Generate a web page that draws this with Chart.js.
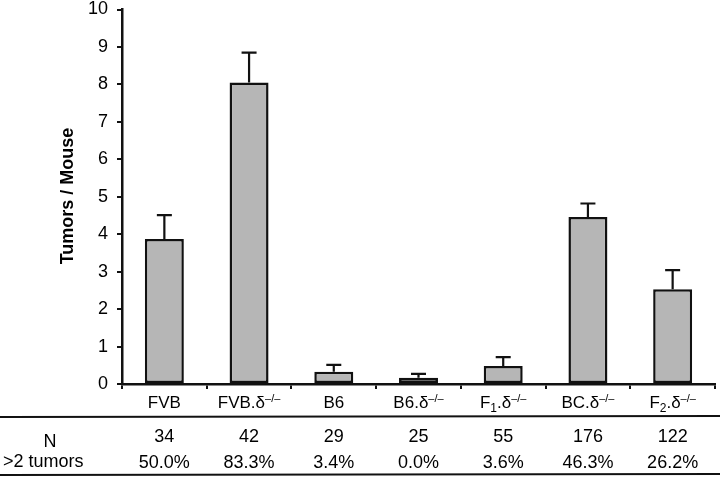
<!DOCTYPE html>
<html>
<head>
<meta charset="utf-8">
<script src="https://cdn.jsdelivr.net/npm/chart.js@4.4.1/dist/chart.umd.min.js"></script>
<style>
  html, body { margin: 0; padding: 0; background: #fff; }
  #wrap { width: 720px; height: 479px; position: relative; }
</style>
</head>
<body>
<div id="wrap"><canvas id="c" width="720" height="479"></canvas></div>
<script>
// ---- data ----
// "_x" = subscript character, "^..." = superscript remainder
const categories = ['FVB', 'FVB.δ^–/–', 'B6', 'B6.δ^–/–', 'F_1.δ^–/–', 'BC.δ^–/–', 'F_2.δ^–/–'];
const tumorsPerMouse = [3.87, 8.05, 0.33, 0.17, 0.48, 4.46, 2.53];
const errorSEM = [0.64, 0.80, 0.18, 0.10, 0.24, 0.36, 0.51];
const nMice = ['34', '42', '29', '25', '55', '176', '122'];
const over2Tumors = ['50.0%', '83.3%', '3.4%', '0.0%', '3.6%', '46.3%', '26.2%'];
const rowLabels = ['N', '>2 tumors'];
const yAxisTitle = 'Tumors / Mouse';
const yMin = 0, yMax = 10, yStep = 1;

const FONT = '"Liberation Sans", Arial, Helvetica, sans-serif';

function parseLabel(s) {
  const segs = [];
  let i = 0, buf = '';
  while (i < s.length) {
    const ch = s[i];
    if (ch === '_') {
      if (buf) { segs.push({ t: buf, k: 'n' }); buf = ''; }
      segs.push({ t: s[i + 1], k: 'sub' });
      i += 2; continue;
    }
    if (ch === '^') {
      if (buf) { segs.push({ t: buf, k: 'n' }); buf = ''; }
      segs.push({ t: s.slice(i + 1), k: 'sup' });
      break;
    }
    buf += ch; i++;
  }
  if (buf) segs.push({ t: buf, k: 'n' });
  return segs;
}

function drawRich(ctx, label, cx, baseline) {
  const segs = parseLabel(label);
  const fonts = { n: '17px ' + FONT, sub: '12px ' + FONT, sup: '11px ' + FONT };
  const dy = { n: 0, sub: 4, sup: -6 };
  let total = 0;
  segs.forEach(s => { ctx.font = fonts[s.k]; s.w = ctx.measureText(s.t).width; total += s.w; });
  let x = cx - total / 2;
  ctx.textAlign = 'left';
  ctx.textBaseline = 'alphabetic';
  segs.forEach(s => {
    ctx.font = fonts[s.k];
    ctx.fillText(s.t, x, baseline + dy[s.k]);
    x += s.w;
  });
}

const errorBars = {
  id: 'errorBars',
  afterDatasetsDraw(chart) {
    const ctx = chart.ctx;
    const meta = chart.getDatasetMeta(0);
    const y = chart.scales.y;
    ctx.save();
    ctx.strokeStyle = '#111';
    ctx.lineWidth = 2.2;
    meta.data.forEach((bar, i) => {
      const top = y.getPixelForValue(tumorsPerMouse[i] + errorSEM[i]);
      const base = y.getPixelForValue(tumorsPerMouse[i]);
      ctx.beginPath();
      ctx.moveTo(bar.x, base);
      ctx.lineTo(bar.x, top);
      ctx.moveTo(bar.x - 7.5, top);
      ctx.lineTo(bar.x + 7.5, top);
      ctx.stroke();
    });
    ctx.restore();
  }
};

const tablePlugin = {
  id: 'tablePlugin',
  afterDraw(chart) {
    const ctx = chart.ctx;
    const meta = chart.getDatasetMeta(0);
    const W = chart.width;
    ctx.save();
    ctx.fillStyle = '#000';
    // category labels
    meta.data.forEach((bar, i) => drawRich(ctx, categories[i], bar.x, 408));
    // table lines
    ctx.strokeStyle = '#111';
    ctx.lineWidth = 2;
    ctx.beginPath();
    ctx.moveTo(0, 417); ctx.lineTo(W, 416);
    ctx.moveTo(0, 475); ctx.lineTo(W, 474);
    ctx.stroke();
    // rows
    ctx.font = '18px ' + FONT;
    ctx.textBaseline = 'alphabetic';
    ctx.textAlign = 'center';
    meta.data.forEach((bar, i) => {
      ctx.fillText(nMice[i], bar.x, 442);
      ctx.fillText(over2Tumors[i], bar.x, 468);
    });
    ctx.fillText(rowLabels[0], 50, 447);
    ctx.textAlign = 'left';
    ctx.fillText(rowLabels[1], 3, 467);
    // y-axis title
    ctx.save();
    ctx.translate(68, 196);
    ctx.rotate(-Math.PI / 2);
    ctx.textAlign = 'center';
    ctx.textBaseline = 'middle';
    ctx.font = 'bold 18px ' + FONT;
    ctx.fillText(yAxisTitle, 0, 0);
    ctx.restore();
    ctx.restore();
  }
};

new Chart(document.getElementById('c'), {
  type: 'bar',
  data: {
    labels: categories,
    datasets: [{
      data: tumorsPerMouse,
      backgroundColor: '#b6b6b6',
      borderColor: '#111',
      borderWidth: 2.5,
      borderSkipped: false,
      barPercentage: 0.46,
      categoryPercentage: 1.0
    }]
  },
  options: {
    responsive: false,
    animation: false,
    devicePixelRatio: 1,
    layout: { padding: { top: 0, right: 5, bottom: 0, left: 0 } },
    plugins: { legend: { display: false }, tooltip: { enabled: false }, title: { display: false } },
    scales: {
      x: {
        offset: true,
        grid: { offset: true, drawOnChartArea: false, drawTicks: true, tickLength: 5, color: '#111', lineWidth: 2 },
        border: { display: true, color: '#111', width: 2.5 },
        ticks: { display: false },
        afterFit(scale) { scale.height = 95; scale.paddingLeft = 0; scale.paddingRight = 0; }
      },
      y: {
        min: yMin, max: yMax,
        grid: { drawOnChartArea: false, drawTicks: true, tickLength: 5, color: '#111', lineWidth: 2 },
        border: { display: true, color: '#111', width: 2.5 },
        ticks: { stepSize: yStep, color: '#000', padding: 9, font: { family: FONT, size: 18 } },
        afterFit(scale) { scale.width = 122; scale.paddingTop = 9.5; scale.paddingBottom = 0; }
      }
    }
  },
  plugins: [errorBars, tablePlugin]
});
</script>
</body>
</html>
